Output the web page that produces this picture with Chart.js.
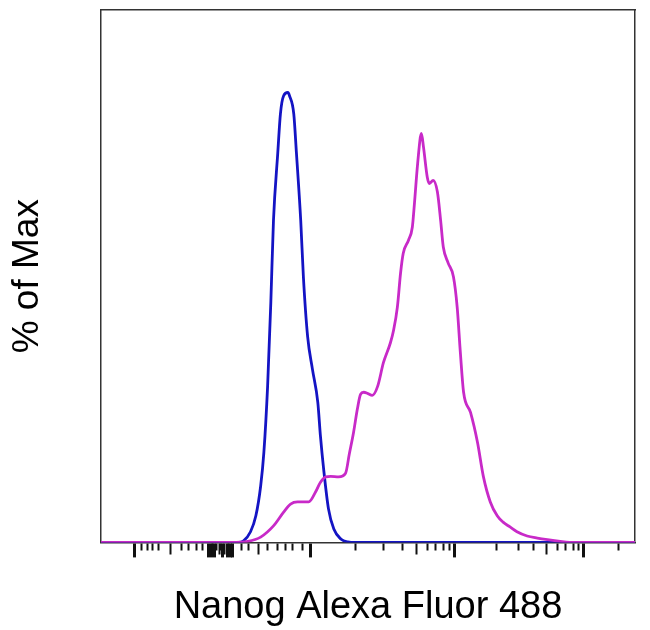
<!DOCTYPE html>
<html>
<head>
<meta charset="utf-8">
<script src="https://cdn.jsdelivr.net/npm/chart.js@4.4.1/dist/chart.umd.min.js"></script>
<style>
  body { margin: 0; background: #fff; }
  #wrap { width: 650px; height: 630px; }
</style>
</head>
<body>
<div id="wrap"><canvas id="chart" width="650" height="630"></canvas></div>
<script>
// x values are display channels (0-1000 across the plot), y is % of plot height
const magentaX = [0, 243, 275, 299, 323, 342, 355, 368, 389, 402, 411, 421, 430, 445, 458, 465, 473, 480, 486, 492, 499, 508, 518, 529, 542, 548, 555, 561, 566, 576, 583, 587, 593, 600, 604, 611, 615, 622, 630, 636, 641, 650, 660, 667, 673, 679, 692, 705, 716, 729, 742, 753, 766, 779, 798, 817, 836, 860, 888, 1000];
const magentaY = [0, 0, 0.2, 1.0, 3.1, 5.7, 7.2, 7.6, 7.6, 9.5, 11.3, 12.3, 12.4, 12.3, 13.0, 16.6, 20.7, 25.0, 27.8, 28.2, 28.0, 27.6, 29.3, 33.8, 37.5, 39.9, 44.2, 50.6, 54.3, 56.8, 59.2, 63.7, 71.2, 76.8, 74.2, 68.6, 67.4, 68.0, 65.8, 60.5, 55.5, 52.5, 49.9, 44.2, 35.6, 28.2, 24.4, 18.8, 12.4, 7.6, 5.0, 3.8, 2.9, 2.0, 1.2, 0.8, 0.5, 0.2, 0, 0];

const blueX = [0, 258, 267, 280, 290, 299, 305, 312, 318, 323, 331, 336, 342, 350, 353, 361, 366, 374, 379, 387, 396, 406, 411, 417, 426, 436, 449, 462, 477, 1000];
const blueY = [0, 0, 0.3, 2.0, 5.0, 10.6, 16.9, 29.3, 45.0, 60.5, 73.1, 80.5, 83.9, 84.5, 83.9, 80.5, 73.1, 60.5, 49.9, 38.6, 32.5, 26.3, 19.9, 13.7, 6.3, 2.5, 0.65, 0.1, 0, 0];

// logicle-style axis tick marks (channel positions)
const majorTicks = [62, 202, 206, 213, 228, 236, 243, 247, 393, 662, 903];
const mediumTicks = [131, 209, 221, 232, 239, 295, 591, 834];
const minorTicks = [75, 88, 97, 108, 150, 164, 178, 191, 217, 224, 264, 277, 312, 331, 346, 359, 378, 477, 529, 564, 611, 626, 641, 652, 740, 781, 809, 854, 869, 884, 894, 970];

const allTicks = [...majorTicks, ...mediumTicks, ...minorTicks].sort((a, b) => a - b);

function toPoints(xs, ys) {
  return xs.map((x, i) => ({ x: x, y: ys[i] }));
}

function tickKind(value) {
  if (majorTicks.includes(value)) return "major";
  if (mediumTicks.includes(value)) return "medium";
  return "minor";
}

const titleFont = { family: "'Liberation Sans', Arial, sans-serif", size: 37 };

const ctx = document.getElementById("chart").getContext("2d");
new Chart(ctx, {
  type: "line",
  data: {
    datasets: [
      {
        label: "Nanog",
        data: toPoints(magentaX, magentaY),
        borderColor: "#c82ac8",
        borderWidth: 2.8,
        pointRadius: 0,
        cubicInterpolationMode: "monotone",
        fill: false,
      },
      {
        label: "Isotype",
        data: toPoints(blueX, blueY),
        borderColor: "#1414c4",
        borderWidth: 2.8,
        pointRadius: 0,
        cubicInterpolationMode: "monotone",
        fill: false,
      },
    ],
  },
  options: {
    responsive: false,
    animation: false,
    events: [],
    layout: { padding: { top: 2, right: 7, left: 0, bottom: 0 } },
    plugins: {
      legend: { display: false },
      tooltip: { enabled: false },
    },
    scales: {
      x: {
        type: "linear",
        position: "bottom",
        min: 0,
        max: 1000,
        afterBuildTicks: (scale) => {
          scale.ticks = allTicks.map((v) => ({ value: v }));
        },
        ticks: { display: false, autoSkip: false },
        grid: {
          display: true,
          drawOnChartArea: false,
          drawTicks: true,
          tickLength: 15,
          tickColor: "#111",
          tickWidth: (c) => (tickKind(c.tick.value) === "major" ? 3 : 2),
          tickBorderDash: (c) => {
            const kind = tickKind(c.tick.value);
            if (kind === "major") return [15, 100];
            if (kind === "medium") return [11, 100];
            return [7, 100];
          },
        },
        border: { display: true, color: "#333", width: 1.5 },
        title: {
          display: true,
          text: "Nanog Alexa Fluor 488",
          color: "#000",
          font: { ...titleFont, size: 38 },
          padding: { top: 27, bottom: 0 },
        },
      },
      y: {
        type: "linear",
        position: "left",
        min: 0,
        max: 100,
        ticks: { display: false },
        grid: { display: false },
        border: { display: true, color: "#333", width: 1.5 },
        title: {
          display: true,
          text: "% of Max",
          color: "#000",
          font: titleFont,
          padding: { top: 6, bottom: 42.6 },
        },
      },
      xTop: {
        type: "linear",
        position: "top",
        ticks: { display: false },
        grid: { display: false },
        border: { display: true, color: "#333", width: 1.5 },
      },
      yRight: {
        type: "linear",
        position: "right",
        ticks: { display: false },
        grid: { display: false },
        border: { display: true, color: "#333", width: 1.5 },
      },
    },
  },
});
</script>
</body>
</html>
